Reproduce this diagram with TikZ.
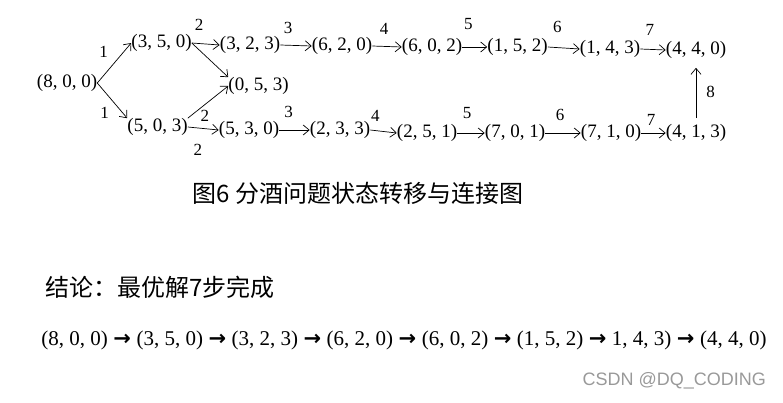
\documentclass[tikz,border=0pt]{standalone}
\usepackage{fontspec}
\setmainfont{Liberation Serif}
\newfontfamily\cjk{Noto Sans CJK SC}
\newfontfamily\arrowfont{DejaVu Sans}
\newfontfamily\markfont{Liberation Sans}
\usetikzlibrary{arrows.meta, positioning}
\tikzset{
  wsarrow/.style={-{Straight Barb[length=6pt, width=10pt]}, line width=0.7pt},
  wsstate/.style={inner sep=0pt, font=\fontsize{19}{22}\selectfont},
  wslabel/.style={inner sep=0pt, font=\fontsize{17}{20}\selectfont},
  wscjk/.style={inner sep=0pt, font=\cjk\fontsize{24}{28}\selectfont},
}
\newcommand{\wsto}{\hspace{5.5pt}{\arrowfont\bfseries →}\hspace{5.5pt}}

\begin{document}
\begin{tikzpicture}[x=1pt, y=-1pt]
  \useasboundingbox (0,0) rectangle (783,402);

  % States of the three jugs (8, 5, 3).
  \node[wsstate] (s800) at (67,83) {(8, 0, 0)};
  \node[wsstate] (s350) at (161.5,43) {(3, 5, 0)};
  \node[wsstate] (s323) at (250,45) {(3, 2, 3)};
  \node[wsstate] (s620) at (342,46) {(6, 2, 0)};
  \node[wsstate] (s602) at (432,47) {(6, 0, 2)};
  \node[wsstate] (s152) at (517.5,47) {(1, 5, 2)};
  \node[wsstate] (s143) at (610,49) {(1, 4, 3)};
  \node[wsstate] (s440) at (696,50) {(4, 4, 0)};
  \node[wsstate] (s053) at (258.5,86) {(0, 5, 3)};
  \node[wsstate] (s503) at (157.5,127) {(5, 0, 3)};
  \node[wsstate] (s530) at (249,130) {(5, 3, 0)};
  \node[wsstate] (s233) at (340,130) {(2, 3, 3)};
  \node[wsstate] (s251) at (427,133) {(2, 5, 1)};
  \node[wsstate] (s701) at (515,133) {(7, 0, 1)};
  \node[wsstate] (s710) at (611,133) {(7, 1, 0)};
  \node[wsstate] (s413) at (696,133) {(4, 1, 3)};

  % Transitions, labelled by step.
  \path[wsarrow]
    (s800.east) edge node[wslabel, pos=.5, above left=5pt and 6pt] {1} (s350.west)
    (s800.east) edge node[wslabel, pos=.6, below left=3pt and 6pt] {1} (s503.north west)
    (s350.east) edge node[wslabel, pos=.26, above=13pt] {2} (s323.west)
    (s350.east) edge (s053.north west)
    (s503.north east) edge node[wslabel, pos=.42, below=5.5pt] {2} (s053.west)
    (s503.east) edge node[wslabel, pos=.33, below=16pt] {2} (s530.west)
    (s323.east) edge node[wslabel, pos=.25, above=11pt] {3} (s620.west)
    (s620.east) edge node[wslabel, pos=.4, above=12pt] {4} (s602.west)
    (s602.east) edge node[wslabel, pos=.24, above=17pt] {5} (s152.west)
    (s152.east) edge node[wslabel, pos=.3, above=15pt] {6} (s143.west)
    (s143.east) edge node[wslabel, pos=.38, above=14pt] {7} (s440.west)
    (s530.east) edge node[wslabel, pos=.31, above=12pt] {3} (s233.west)
    (s233.east) edge node[wslabel, pos=.19, above=9pt] {4} (s251.west)
    (s251.east) edge node[wslabel, pos=.36, above=14pt] {5} (s701.west)
    (s701.east) edge node[wslabel, pos=.42, above=12pt] {6} (s710.west)
    (s710.east) edge node[wslabel, pos=.4, above=7pt] {7} (s413.west)
    (s413.north) edge[shorten <=6pt, shorten >=9pt] node[wslabel, midway, right=10pt] {8} (s440.south);

  % Caption and result.
  \node[wscjk] (title) at (358,193) {图6 分酒问题状态转移与连接图};
  \node[wscjk, anchor=west] (concl) at (45,287) {结论：最优解7步完成};
  \node[inner sep=0pt, font=\fontsize{21}{24}\selectfont] (best) at (404,340)
    {(8, 0, 0)\wsto(3, 5, 0)\wsto(3, 2, 3)\wsto(6, 2, 0)\wsto(6, 0, 2)\wsto(1, 5, 2)\wsto1, 4, 3)\wsto(4, 4, 0)};
  \node[inner sep=0pt, anchor=east, text=black!40, font=\markfont\fontsize{18}{20}\selectfont] (mark) at (766,381) {CSDN @DQ\_CODING};
\end{tikzpicture}
\end{document}
